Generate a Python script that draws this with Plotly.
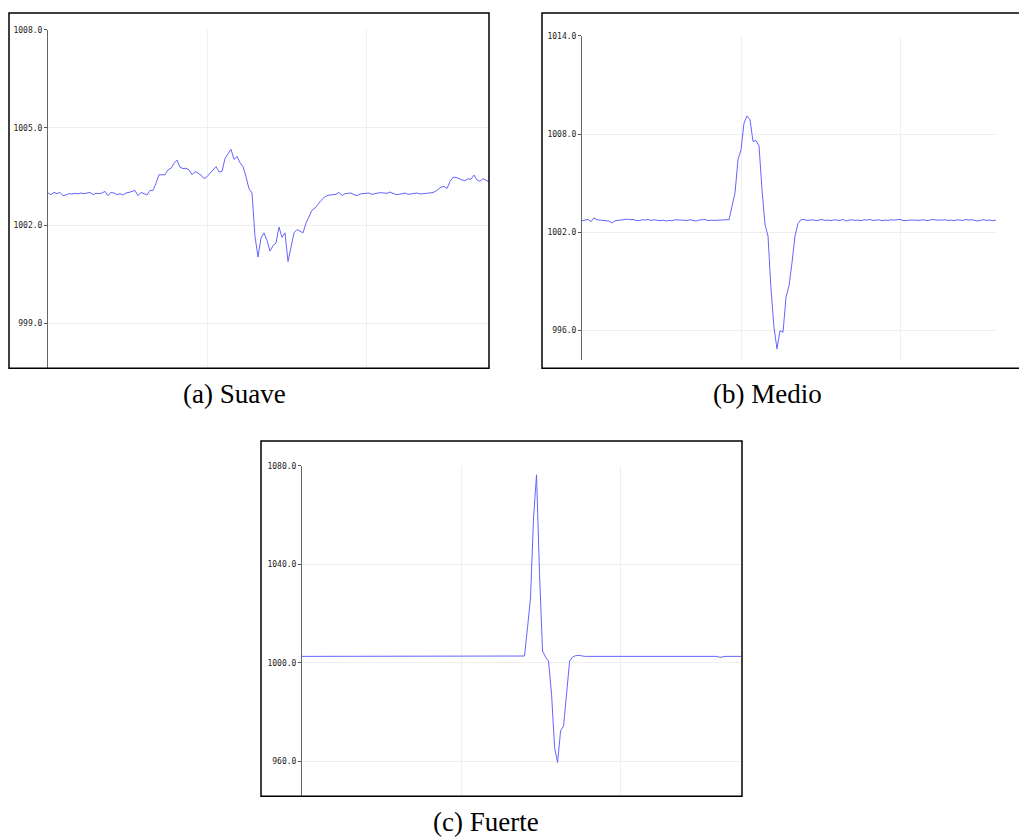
import plotly.graph_objects as go

# ---------------- data ----------------
suave_values = [
    1003.00, 1002.95, 1003.02, 1002.98, 1003.02, 1002.92, 1002.94, 1002.98, 1002.97, 1002.99,
    1002.98, 1003.00, 1002.98, 1003.00, 1003.02, 1002.95, 1002.99, 1002.98, 1003.00, 1003.05,
    1002.92, 1003.02, 1003.00, 1002.95, 1002.98, 1002.94, 1003.00, 1003.02, 1003.05, 1003.08,
    1002.92, 1003.02, 1002.98, 1002.94, 1003.08, 1003.08, 1003.30, 1003.56, 1003.56, 1003.56,
    1003.71, 1003.76, 1003.91, 1004.01, 1003.79, 1003.75, 1003.76, 1003.71, 1003.56, 1003.66,
    1003.61, 1003.55, 1003.44, 1003.50, 1003.61, 1003.71, 1003.81, 1003.65, 1003.66, 1004.06,
    1004.22, 1004.34, 1004.03, 1004.12, 1003.93, 1003.81, 1003.50, 1003.13, 1003.00, 1001.67,
    1001.04, 1001.62, 1001.78, 1001.55, 1001.22, 1001.39, 1001.47, 1001.96, 1001.64, 1001.78,
    1000.90, 1001.39, 1001.78, 1001.88, 1001.83, 1001.78, 1002.08, 1002.28, 1002.47, 1002.54,
    1002.67, 1002.77, 1002.86, 1002.92, 1002.94, 1002.95, 1002.96, 1003.02, 1002.92, 1002.98,
    1002.99, 1003.00, 1002.95, 1002.92, 1002.97, 1002.98, 1002.99, 1003.00, 1002.96, 1002.99,
    1003.00, 1003.01, 1003.00, 1002.99, 1003.03, 1003.00, 1002.95, 1002.96, 1002.98, 1003.00,
    1002.96, 1002.97, 1002.99, 1003.00, 1002.97, 1002.98, 1003.00, 1002.99, 1003.01, 1003.04,
    1003.10, 1003.18, 1003.20, 1003.14, 1003.35, 1003.48, 1003.48, 1003.43, 1003.40, 1003.38,
    1003.44, 1003.42, 1003.55, 1003.40, 1003.36, 1003.44, 1003.40, 1003.34,
]

medio_values = [
    1002.71, 1002.75, 1002.79, 1002.65, 1002.89, 1002.77, 1002.75, 1002.73, 1002.67, 1002.69,
    1002.57, 1002.71, 1002.73, 1002.77, 1002.79, 1002.81, 1002.77, 1002.79, 1002.73, 1002.71,
    1002.77, 1002.75, 1002.79, 1002.73, 1002.77, 1002.75, 1002.71, 1002.75, 1002.69, 1002.73,
    1002.71, 1002.77, 1002.75, 1002.75, 1002.75, 1002.73, 1002.77, 1002.75, 1002.69, 1002.75,
    1002.77, 1002.79, 1002.71, 1002.75, 1002.73, 1002.75, 1002.75, 1002.75, 1002.77, 1002.77,
    1003.60, 1004.41, 1006.44, 1007.05, 1008.67, 1009.11, 1008.87, 1007.55, 1007.61, 1007.29,
    1004.61, 1002.49, 1001.78, 998.53, 996.20, 994.88, 996.00, 995.90, 998.03, 998.74,
    1000.15, 1001.78, 1002.55, 1002.77, 1002.79, 1002.73, 1002.75, 1002.77, 1002.71, 1002.75,
    1002.79, 1002.73, 1002.75, 1002.71, 1002.77, 1002.75, 1002.73, 1002.79, 1002.69, 1002.75,
    1002.77, 1002.73, 1002.75, 1002.71, 1002.77, 1002.75, 1002.79, 1002.73, 1002.75, 1002.77,
    1002.71, 1002.75, 1002.73, 1002.77, 1002.75, 1002.75, 1002.79, 1002.73, 1002.71, 1002.75,
    1002.77, 1002.75, 1002.73, 1002.75, 1002.77, 1002.71, 1002.75, 1002.79, 1002.75, 1002.73,
    1002.75, 1002.77, 1002.73, 1002.75, 1002.71, 1002.77, 1002.75, 1002.73, 1002.79, 1002.75,
    1002.77, 1002.75, 1002.69, 1002.75, 1002.77, 1002.73, 1002.75, 1002.71, 1002.75,
]

fuerte_values = [
    1002.65, 1002.65, 1002.65, 1002.65, 1002.65, 1002.65, 1002.65, 1002.65, 1002.65, 1002.65,
    1002.65, 1002.65, 1002.65, 1002.65, 1002.65, 1002.65, 1002.65, 1002.65, 1002.65, 1002.65,
    1002.65, 1002.65, 1002.65, 1002.65, 1002.65, 1002.65, 1002.65, 1002.65, 1002.65, 1002.65,
    1002.65, 1002.65, 1002.65, 1002.65, 1002.65, 1002.65, 1002.65, 1002.65, 1002.65, 1002.65,
    1002.65, 1002.65, 1002.65, 1002.65, 1002.65, 1002.65, 1002.65, 1002.65, 1002.65, 1002.65,
    1002.65, 1002.65, 1002.65, 1002.65, 1002.65, 1002.65, 1002.65, 1002.65, 1002.65, 1002.65,
    1002.65, 1002.65, 1002.65, 1002.65, 1002.65, 1002.65, 1002.65, 1002.65, 1002.65, 1002.65,
    1002.65, 1002.65, 1002.65, 1002.65, 1002.79, 1014.26, 1026.41, 1058.81, 1076.36, 1035.86,
    1004.81, 1002.38, 1000.76, 987.26, 965.66, 959.59, 972.41, 974.44, 988.61, 1000.76,
    1002.38, 1002.92, 1003.06, 1002.79, 1002.65, 1002.65, 1002.65, 1002.65, 1002.65, 1002.65,
    1002.65, 1002.65, 1002.65, 1002.65, 1002.65, 1002.65, 1002.65, 1002.65, 1002.65, 1002.65,
    1002.65, 1002.65, 1002.65, 1002.65, 1002.65, 1002.65, 1002.65, 1002.65, 1002.65, 1002.65,
    1002.65, 1002.65, 1002.65, 1002.65, 1002.65, 1002.65, 1002.65, 1002.65, 1002.65, 1002.65,
    1002.65, 1002.65, 1002.65, 1002.65, 1002.65, 1002.65, 1002.65, 1002.65, 1002.65, 1002.25,
    1002.50, 1002.65, 1002.65, 1002.65, 1002.65, 1002.65, 1002.65,
]

panel_names = ["(a) Suave", "(b) Medio", "(c) Fuerte"]
suave_ticks = [999, 1002, 1005, 1008]
medio_ticks = [996, 1002, 1008, 1014]
fuerte_ticks = [960, 1000, 1040, 1080]

# ---------------- figure ----------------
W, H = 1019, 837


def px_x(p):
    return p / W


def px_y(p):
    return 1 - p / H


LINE_COLOR = "rgb(100,100,255)"
fig = go.Figure()
series = [suave_values, medio_values, fuerte_values]
for k, vals in enumerate(series):
    ax = "" if k == 0 else str(k + 1)
    fig.add_trace(go.Scatter(
        x=list(range(len(vals))), y=vals, mode="lines",
        line=dict(color=LINE_COLOR, width=1),
        xaxis="x" + ax, yaxis="y" + ax, showlegend=False, hoverinfo="skip",
    ))

# plot-area geometry (pixels): left, right, top, bottom
areas = [(48, 489, 26, 366), (582, 996, 32, 358), (302, 741, 464, 796)]
yranges = [[997.63, 1008], [994.19, 1014], [945.9, 1080]]
ticks = [suave_ticks, medio_ticks, fuerte_ticks]

layout = dict(
    width=W, height=H, autosize=False,
    margin=dict(l=0, r=0, t=0, b=0),
    paper_bgcolor="white", plot_bgcolor="white",
    showlegend=False,
)
for k in range(3):
    l, r, t, b = areas[k]
    n = len(series[k])
    sfx = "" if k == 0 else str(k + 1)
    layout["xaxis" + sfx] = dict(
        domain=[px_x(l), px_x(r)], range=[0, n - 1], anchor="y" + sfx,
        showgrid=True, gridcolor="#efefef", gridwidth=1,
        tickmode="linear", tick0=0, dtick=53,
        showticklabels=False, ticks="", zeroline=False, showline=False,
        fixedrange=True,
    )
    layout["yaxis" + sfx] = dict(
        domain=[px_y(b), px_y(t)], range=yranges[k], anchor="x" + sfx,
        tickvals=ticks[k], tickformat=".1f",
        showgrid=True, gridcolor="#efefef", gridwidth=1,
        zeroline=False, showline=True, linecolor="#666666", linewidth=1,
        ticks="outside", ticklen=3, tickcolor="#555555", tickwidth=1,
        tickfont=dict(family="DejaVu Sans Mono", size=8, color="#222222"),
        fixedrange=True,
    )

fig.update_layout(**layout)

# frames around each sub-figure
frames = [(9, 489, 9, 366), (542, 1030, 9, 366), (261, 742, 439, 796)]
for (l, r, t, b) in frames:
    fig.add_shape(type="rect", xref="paper", yref="paper",
                  x0=px_x(l), x1=px_x(r), y0=px_y(b), y1=px_y(t),
                  line=dict(color="black", width=1.5), fillcolor="rgba(0,0,0,0)",
                  layer="above")

# captions
caption_pos = [(234, 392), (767, 392), (486, 822)]
for name, (cx, cy) in zip(panel_names, caption_pos):
    fig.add_annotation(text=name, xref="paper", yref="paper",
                       x=px_x(cx), y=px_y(cy), xanchor="center", yanchor="middle",
                       showarrow=False,
                       font=dict(family="Liberation Serif", size=27, color="black"))

fig.write_html(
    "out.html",
    config={"displayModeBar": False},
    post_script="document.body.style.margin='0';document.body.style.padding='0';"
                "document.documentElement.style.overflow='hidden';",
)
